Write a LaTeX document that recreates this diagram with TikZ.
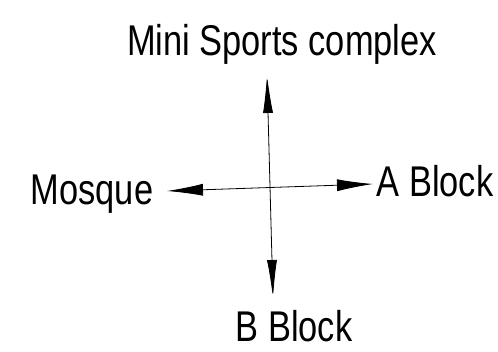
\documentclass[tikz,border=0pt]{standalone}
\usepackage{fontspec}
\setmainfont{Liberation Sans}[FakeStretch=0.8]
\usetikzlibrary{arrows.meta}
\begin{document}
\begin{tikzpicture}[x=1pt,y=-1pt]
\useasboundingbox (0,0) rectangle (498,352);
\tikzset{place/.style={anchor=base,inner sep=0pt,font=\fontsize{43}{50}\selectfont}}
% 地名
\node[place] (sports) at (282,56) {Mini Sports complex};
\node[place] (mosque) at (92,205) {Mosque};
\node[place] (ablock) at (435,197) {A Block};
\node[place] (bblock) at (294,342) {B Block};
% 箭头端点
\coordinate (w) at (167,191);
\coordinate (e) at (373,184);
\coordinate (n) at (267,75);
\coordinate (s) at (273,298);
\draw[line width=0.8pt,{Latex[length=36pt,width=12pt]}-{Latex[length=36pt,width=12pt]}] (w) -- (e);
\draw[line width=0.8pt,{Latex[length=38pt,width=10pt]}-{Latex[length=38pt,width=10pt]}] (n) -- (s);
\end{tikzpicture}
\end{document}
